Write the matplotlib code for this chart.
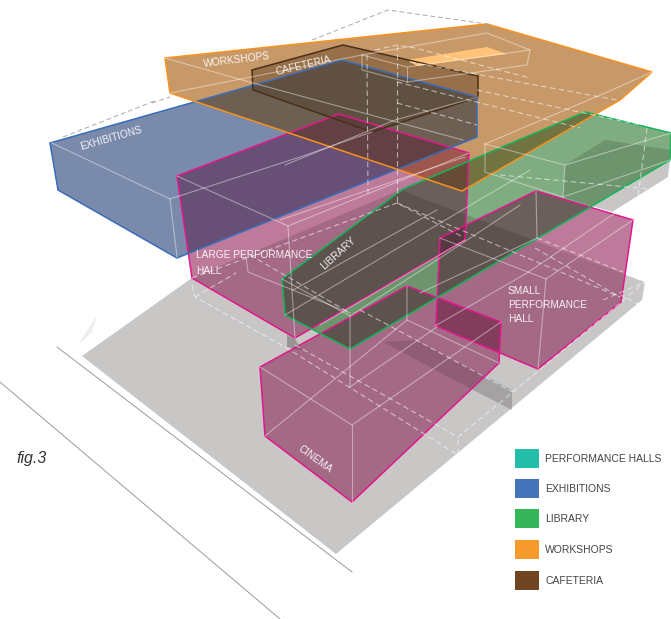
import itertools
import numpy as np
import matplotlib
matplotlib.use('Agg')
import matplotlib.pyplot as plt
from matplotlib.patches import Polygon

plt.rcParams['font.family'] = ['Liberation Sans', 'DejaVu Sans']

# outlines of the volumes (pixels)
ground = [(82,356),(192,278),(400,190),(645,282),(642,300),(336,554)]
ground_back = [(565,165),(605,140),(671,150),(668,177),(612,212),(563,197)]
shadow = [(383,342),(415,340),(512,390),(512,410),(473,390)]
shadow2 = [(287,335),(295,339),(302,350),(287,347)]
orange = [(165,58),(487,24),(652,72),(620,100),(462,191),(170,93)]
blue = [(50,143),(342,60),(477,97),(477,137),(177,258),(58,190)]
large_hall = [(177,176),(339,114),(469,153),(465,240),(295,338),(192,278)]
library = [(282,279),(403,189),(585,112),(671,133),(670,160),(350,349),(285,315)]
small_hall = [(440,238),(536,191),(633,220),(621,302),(538,369),(436,326)]
cinema = [(260,367),(407,286),(501,322),(499,363),(352,502),(265,436)]
cafeteria = [(252,70),(343,45),(478,76),(478,97),(372,132),(253,90)]
skylight = [(407,60),(487,47),(507,54),(417,66)]

# inner edges
pale_lines = [
    [(165,58),(253,83),(463,140)], [(170,93),(362,55),(487,33),(530,50),(527,65),(407,82),(362,70),(362,55)],
    [(362,55),(407,67),(530,50)], [(407,67),(407,82)],
    [(652,72),(612,90),(485,144)], [(485,144),(565,165),(671,133)], [(565,165),(563,197),(485,172),(485,144)],
    [(563,197),(670,160)], [(478,97),(395,120),(285,165)],
    [(52,143),(170,199),(177,257)], [(170,199),(300,157),(372,132)],
    [(177,176),(288,226),(295,338)], [(288,226),(469,153)], [(280,220),(465,157)],
    [(246,257),(248,272),(350,313)],
    [(282,279),(350,316),(350,387)], [(350,316),(437,260),(520,205)], [(285,315),(403,245),(530,170)],
    [(293,290),(437,210)], [(320,325),(465,240)],
    [(440,238),(546,279),(633,220)], [(546,279),(538,369)], [(435,326),(527,273),(615,213)],
    [(537,238),(420,293)], [(536,191),(537,238)],
    [(260,367),(352,425),(501,322)], [(352,425),(352,502)],
    [(407,286),(407,320),(499,363)], [(407,320),(265,436)], [(350,387),(437,327)],
]
dash_lines = [
    [(375,50),(397,45),(415,48),(530,78)], [(397,45),(397,203)], [(367,55),(368,197)],
    [(410,62),(617,100)], [(397,82),(580,128)], [(397,103),(477,125)], [(477,90),(640,125)],
    [(192,278),(397,203),(463,237)], [(397,203),(620,297)], [(250,255),(350,313)],
    [(537,238),(623,272)], [(535,248),(620,297)], [(647,128),(638,197)],
    [(192,285),(195,297),(285,347),(458,455),(458,437)], [(195,297),(236,273)],
    [(295,345),(458,437),(513,392),(645,282),(627,275)],
    [(360,310),(513,392)],
    [(603,300),(645,282)], [(640,305),(621,295)], [(500,175),(660,190)],
]
grey_dash = [[(152,103),(170,97)], [(63,137),(157,100)], [(312,40),(388,10),(487,24),(487,47)]]
site_lines = [[(57,347),(352,572)], [(0,382),(280,619)]]
north_arrow = [(78,345),(97,315),(92,332)]

legend_names = ['PERFORMANCE HALLS', 'EXHIBITIONS', 'LIBRARY', 'WORKSHOPS', 'CAFETERIA']
legend_colors = ['#23BDA9', '#4573B9', '#36B45A', '#F79A2E', '#6F4523']
legend_y = [458.5, 488.5, 518.5, 549.5, 580.5]

# (outline, tint on white, is ground)
layers = [
    (ground, (201,198,198), True),
    (ground_back, (201,198,198), True),
    (shadow, (208,208,208), True),
    (shadow2, (190,190,190), True),
    (large_hall, (189,122,155), False),
    (small_hall, (189,122,155), False),
    (cinema, (189,122,155), False),
    (blue, (122,138,171), False),
    (library, (127,172,128), False),
    (orange, (200,153,104), False),
    (cafeteria, (178,163,147), False),
]


def oriented(poly):
    p = np.array(poly, float)
    x, y = p[:,0], p[:,1]
    area = np.sum(x*np.roll(y,-1) - np.roll(x,-1)*y)
    return p if area > 0 else p[::-1]


def clip(subject, clipper):
    # Sutherland-Hodgman, clipper is convex
    out = [tuple(q) for q in subject]
    c = oriented(clipper)
    for a, b in zip(c, np.roll(c,-1,axis=0)):
        if not out:
            break
        inp, out = out, []
        side = lambda q: (b[0]-a[0])*(q[1]-a[1]) - (b[1]-a[1])*(q[0]-a[0])
        for i, q in enumerate(inp):
            prev = inp[i-1]
            sq, sp = side(q), side(prev)
            if (sq >= 0) != (sp >= 0):
                t = sp/(sp-sq)
                out.append((prev[0]+t*(q[0]-prev[0]), prev[1]+t*(q[1]-prev[1])))
            if sq >= 0:
                out.append(q)
    return out


def mix(idx):
    # multiply look, overlaps come out a little lighter than a pure product
    coloured = [i for i in idx if not layers[i][2]]
    grounds = [i for i in idx if layers[i][2]]
    k = max(0.6, 1 - 0.13*(len(coloured)-1)) if coloured else 1
    total = np.zeros(3)
    for i in coloured:
        total += np.log(np.array(layers[i][1])/255)*k
    for i in grounds:
        total += np.log(np.array(layers[i][1])/255)*(0.6 if coloured else 1)
    return tuple(np.exp(total))


fig = plt.figure(figsize=(6.71, 6.19), dpi=100)
ax = fig.add_axes([0, 0, 1, 1])
ax.set_xlim(0, 671)
ax.set_ylim(619, 0)
ax.axis('off')

for pts in site_lines:
    ax.plot(*zip(*pts), color='#9A9A9A', lw=0.7)
ax.add_patch(Polygon(north_arrow, fc='#EDEDED', ec='none'))
for pts in grey_dash:
    ax.plot(*zip(*pts), color='#A8A8A8', lw=0.7, ls=(0,(5,3)))

# every overlap gets its own patch, smallest sets first
for n in range(1, 6):
    for idx in itertools.combinations(range(len(layers)), n):
        poly = [tuple(q) for q in layers[idx[0]][0]]
        for i in idx[1:]:
            poly = clip(poly, layers[i][0])
        if len(poly) >= 3:
            ax.add_patch(Polygon(poly, fc=mix(idx), ec='none', lw=0))

ax.add_patch(Polygon(skylight, fc='#FFC37A', ec='none'))

for pts in dash_lines:
    ax.plot(*zip(*pts), color='white', alpha=0.55, lw=0.8, ls=(0,(5,3)))
for pts in pale_lines:
    ax.plot(*zip(*pts), color='white', alpha=0.42, lw=0.8)

ax.add_patch(Polygon(large_hall, fc='none', ec='#E0188C', lw=1.1))
ax.add_patch(Polygon(small_hall, fc='none', ec='#E0188C', lw=1.1))
ax.add_patch(Polygon(cinema, fc='none', ec='#E0188C', lw=1.1))
ax.add_patch(Polygon(blue, fc='none', ec='#3A6DB8', lw=1.1))
ax.add_patch(Polygon(library, fc='none', ec='#12B45A', lw=1.1))
ax.add_patch(Polygon(orange, fc='none', ec='#F7921E', lw=1.1))
ax.add_patch(Polygon(cafeteria, fc='none', ec='#4A3018', lw=1.1))

lab = dict(color='white', alpha=0.9, fontsize=7.3, ha='center', va='center', rotation_mode='anchor')
ax.text(237, 60, 'WORKSHOPS', rotation=7, **lab)
ax.text(303, 66, 'CAFETERIA', rotation=13, **lab)
ax.text(111, 138, 'EXHIBITIONS', rotation=16, **lab)
ax.text(338, 253, 'LIBRARY', rotation=42, **lab)
ax.text(315, 459, 'CINEMA', rotation=-36, **lab)
ax.text(196, 263, 'LARGE PERFORMANCE\nHALL', color='white', alpha=0.9, fontsize=7.3,
        ha='left', va='center', linespacing=1.75)
ax.text(508, 305, 'SMALL\nPERFORMANCE\nHALL', color='white', alpha=0.9, fontsize=7.3,
        ha='left', va='center', linespacing=1.55)

ax.text(16, 459, 'fig.3', fontsize=11.5, style='italic', color='#333333', va='center')

for name, col, y in zip(legend_names, legend_colors, legend_y):
    ax.fill_between([515, 539], y-9.5, y+9.5, color=col, lw=0)
    ax.text(545, y+0.5, name, fontsize=7.5, color='#444444', va='center')

fig.savefig('out.png', dpi=100)
